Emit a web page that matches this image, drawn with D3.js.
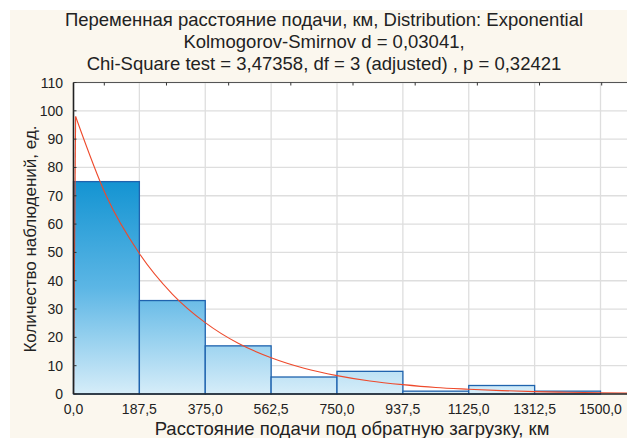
<!DOCTYPE html>
<html><head><meta charset="utf-8">
<script src="https://cdn.jsdelivr.net/npm/d3@7/dist/d3.min.js"></script>
<style>html,body{margin:0;padding:0;background:#fff;overflow:hidden}</style>
</head><body><svg id="c" width="627" height="438"></svg>
<script>
const titleLines = ["Переменная расстояние подачи, км, Distribution: Exponential",
  "Kolmogorov-Smirnov d = 0,03041,",
  "Chi-Square test = 3,47358, df = 3 (adjusted) , p = 0,32421"];
const xLabel = "Расстояние подачи под обратную загрузку, км";
const yLabel = "Количество наблюдений, ед.";
const binStarts = [0, 187.5, 375, 562.5, 750, 937.5, 1125, 1312.5];
const binWidth = 187.5;
const counts = [75, 33, 17, 6, 8, 1, 3, 1];
const xTicks = [0, 187.5, 375, 562.5, 750, 937.5, 1125, 1312.5, 1500];
const xTickLabels = ["0,0","187,5","375,0","562,5","750,0","937,5","1125,0","1312,5","1500,0"];
const yTicks = [0,10,20,30,40,50,60,70,80,90,100,110];
const topTicks = [1,2,3,4,5,6,7,8,9];
const curveX = [0, 6, 93.75, 187.5, 281.25, 375, 468.75, 562.5, 656.25, 750, 843.75, 937.5, 1031.25, 1125, 1218.75, 1312.5, 1406.25, 1500, 1590];
const curveY = [0, 98, 69.8, 49.6, 35.3, 25.2, 17.9, 12.8, 9.1, 6.5, 4.6, 3.3, 2.3, 1.7, 1.2, 0.85, 0.6, 0.43, 0.33];

const svg = d3.select("#c");
const W = 627, H = 438;
const L = 73.5, T = 82.5, B = 394, Rv = 627;
const x = d3.scaleLinear().domain([0, 1500]).range([L, 600.5]);
const y = d3.scaleLinear().domain([0, 110]).range([B, T]);
const xt = d3.scaleLinear().domain([1, 9]).range([104.3, 601.7]);
const font = "'Liberation Sans', Arial, sans-serif";

svg.append("rect").attr("x",10).attr("y",10).attr("width",W-10).attr("height",H-10).attr("fill","#fbf7ee");
svg.append("rect").attr("x",L).attr("y",T).attr("width",Rv-L+2).attr("height",B-T).attr("fill","#fff");

// grid
svg.append("g").selectAll("line").data(yTicks.slice(1)).join("line")
  .attr("x1",L).attr("x2",Rv).attr("y1",d=>y(d)).attr("y2",d=>y(d))
  .attr("stroke","#dedede").attr("stroke-width",1.3);
svg.append("g").selectAll("line").data(xTicks.slice(1)).join("line")
  .attr("x1",d=>x(d)).attr("x2",d=>x(d)).attr("y1",T).attr("y2",B)
  .attr("stroke","#dedede").attr("stroke-width",1.3);

// gradient
const defs = svg.append("defs");
const g = defs.append("linearGradient").attr("id","bg").attr("gradientUnits","userSpaceOnUse")
  .attr("x1",0).attr("x2",0).attr("y1",y(75)).attr("y2",y(0));
g.append("stop").attr("offset",0).attr("stop-color","#1494d2");
g.append("stop").attr("offset",0.5).attr("stop-color","#5cb6e5");
g.append("stop").attr("offset",1).attr("stop-color","#d6edf9");

svg.append("g").selectAll("rect").data(counts).join("rect")
  .attr("x",(d,i)=>x(binStarts[i])).attr("width",(d,i)=>x(binStarts[i]+binWidth)-x(binStarts[i]))
  .attr("y",d=>y(d)).attr("height",d=>y(0)-y(d))
  .attr("fill","url(#bg)").attr("stroke","#1f63ae").attr("stroke-width",1.3);

// curve
const pts = curveX.map((v,i)=>[x(v), y(curveY[i])]);
svg.append("path").attr("d", d3.line()(pts.slice(0,2)))
  .attr("fill","none").attr("stroke","#ee4a2c").attr("stroke-width",1.1);
svg.append("path").attr("d", d3.line().curve(d3.curveMonotoneX)(pts.slice(1)))
  .attr("fill","none").attr("stroke","#ee4a2c").attr("stroke-width",1.1);

// frame
svg.append("line").attr("x1",L).attr("x2",Rv).attr("y1",T).attr("y2",T).attr("stroke","#555").attr("stroke-width",1.2);
svg.append("line").attr("x1",L).attr("x2",Rv).attr("y1",B).attr("y2",B).attr("stroke","#222").attr("stroke-width",1.6);
svg.append("line").attr("x1",L).attr("x2",L).attr("y1",T).attr("y2",B).attr("stroke","#222").attr("stroke-width",1.6);

// top ticks
svg.append("g").selectAll("line").data(topTicks).join("line")
  .attr("x1",d=>xt(d)).attr("x2",d=>xt(d)).attr("y1",T).attr("y2",T+3)
  .attr("stroke","#333").attr("stroke-width",1);
// y ticks inward
svg.append("g").selectAll("line").data(yTicks).join("line")
  .attr("x1",L).attr("x2",L+3).attr("y1",d=>y(d)).attr("y2",d=>y(d))
  .attr("stroke","#333").attr("stroke-width",1);

// labels
svg.append("g").selectAll("text").data(yTicks).join("text")
  .attr("x",63).attr("y",d=>y(d)+5).attr("text-anchor","end")
  .attr("font-family",font).attr("font-size",14).attr("fill","#222").text(d=>d);
svg.append("g").selectAll("text").data(xTicks).join("text")
  .attr("x",d=>x(d)).attr("y",414).attr("text-anchor","middle")
  .attr("font-family",font).attr("font-size",14).attr("fill","#222").text((d,i)=>xTickLabels[i]);

svg.append("g").selectAll("text").data(titleLines).join("text")
  .attr("x",324).attr("y",(d,i)=>25.5+i*22.3).attr("text-anchor","middle")
  .attr("font-family",font).attr("font-size",18.5).attr("fill","#222").text(d=>d);

svg.append("text").attr("x",352).attr("y",435).attr("text-anchor","middle")
  .attr("font-family",font).attr("font-size",18.5).attr("fill","#222").text(xLabel);
svg.append("text").attr("transform","translate(36,239) rotate(-90)").attr("text-anchor","middle")
  .attr("font-family",font).attr("font-size",17).attr("fill","#222").text(yLabel);
</script></body></html>
